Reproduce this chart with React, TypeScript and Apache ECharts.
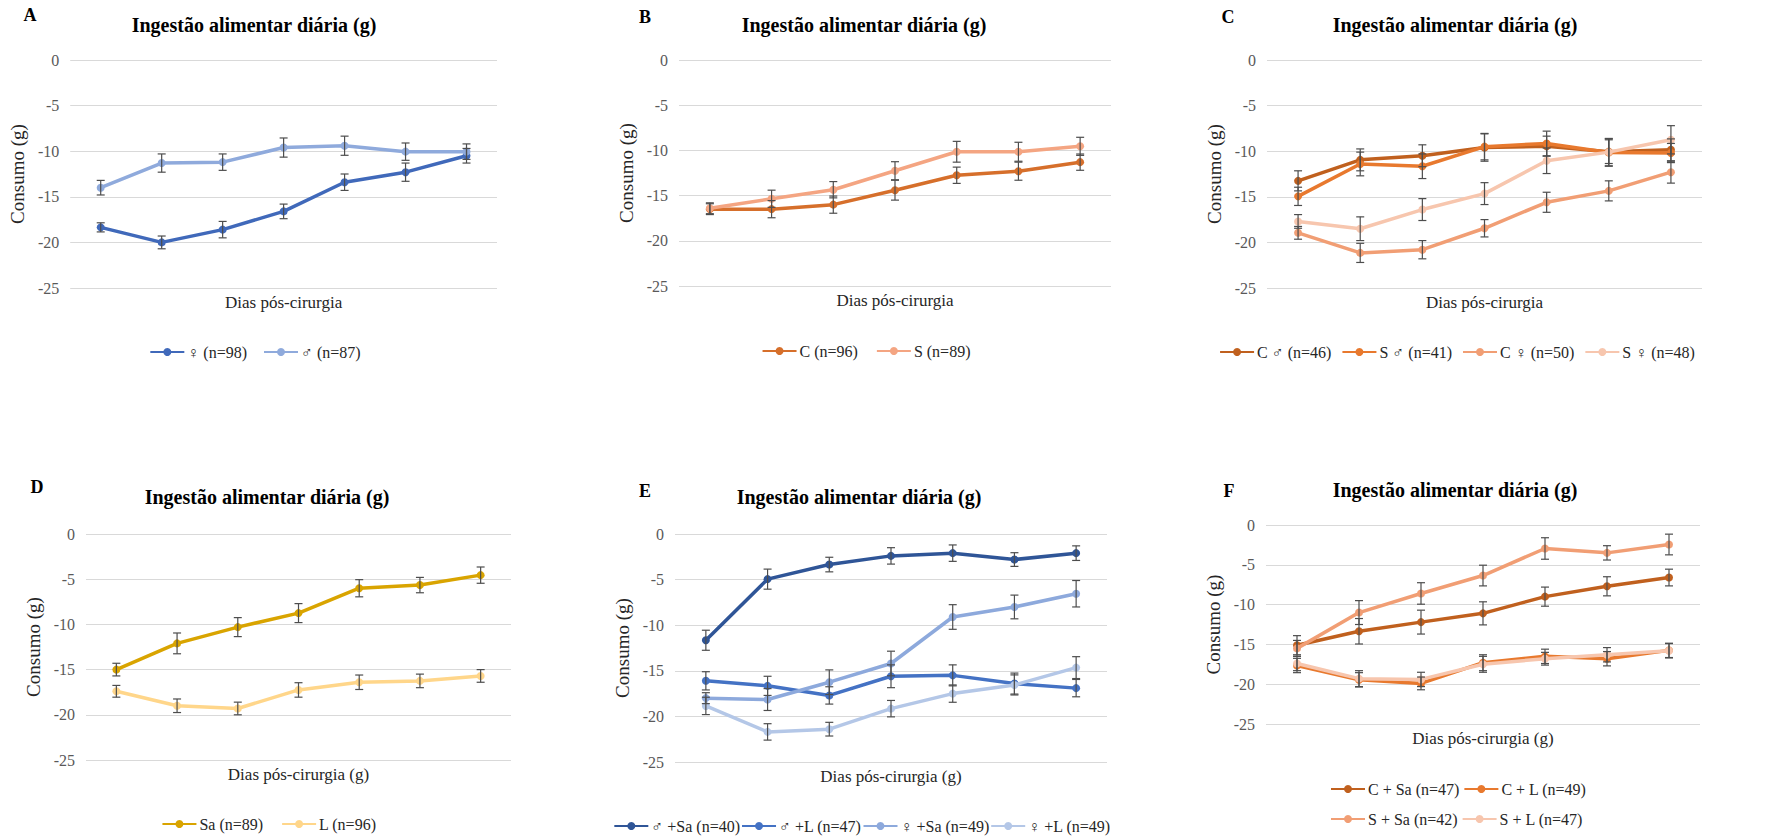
import React, { useEffect, useRef } from "react";
import * as echarts from "echarts";

const FONT = "Liberation Serif";

const days = ["1", "2", "3", "4", "5", "6", "7"];
const yMin = -25;
const yMax = 0;
const yStep = 5;

// Panel A
const aFemale = [-18.35, -20.0, -18.6, -16.6, -13.4, -12.3, -10.5];
const aFemaleErr = [0.5, 0.7, 0.9, 0.8, 0.9, 1.0, 0.8];
const aMale = [-14.0, -11.3, -11.2, -9.6, -9.4, -10.05, -10.05];
const aMaleErr = [0.8, 1.0, 0.9, 1.05, 1.05, 0.95, 0.85];

// Panel B
const bC = [-16.5, -16.5, -16.0, -14.4, -12.75, -12.3, -11.3];
const bCErr = [0.6, 0.95, 0.95, 1.1, 0.9, 1.0, 0.9];
const bS = [-16.4, -15.35, -14.35, -12.25, -10.15, -10.15, -9.55];
const bSErr = [0.6, 0.95, 0.9, 1.0, 1.15, 1.05, 1.0];

// Panel C
const cCm = [-13.25, -10.95, -10.5, -9.6, -9.45, -10.05, -9.85];
const cCmErr = [1.1, 1.2, 1.2, 1.5, 1.1, 1.3, 1.2];
const cSm = [-14.95, -11.4, -11.65, -9.5, -9.15, -10.15, -10.2];
const cSmErr = [1.0, 1.3, 1.35, 1.45, 1.35, 1.5, 1.05];
const cCf = [-18.95, -21.15, -20.8, -18.45, -15.6, -14.35, -12.3];
const cCfErr = [0.7, 1.05, 1.0, 0.95, 1.1, 1.1, 1.2];
const cSf = [-17.7, -18.5, -16.4, -14.65, -11.05, -10.1, -8.75];
const cSfErr = [0.75, 1.3, 1.2, 1.2, 1.4, 1.5, 1.55];

// Panel D
const dSa = [-15.0, -12.1, -10.3, -8.75, -6.0, -5.65, -4.55];
const dSaErr = [0.7, 1.15, 1.05, 1.05, 0.95, 0.85, 0.9];
const dL = [-17.4, -19.0, -19.3, -17.25, -16.4, -16.25, -15.7];
const dLErr = [0.65, 0.75, 0.7, 0.8, 0.8, 0.75, 0.7];

// Panel E
const eMSa = [-11.65, -4.95, -3.35, -2.4, -2.1, -2.8, -2.1];
const eMSaErr = [1.1, 1.1, 0.8, 0.9, 0.9, 0.75, 0.8];
const eML = [-16.1, -16.65, -17.7, -15.6, -15.5, -16.4, -16.9];
const eMLErr = [1.0, 1.05, 0.95, 1.25, 1.15, 1.15, 0.95];
const eFSa = [-18.0, -18.15, -16.25, -14.2, -9.1, -8.0, -6.55];
const eFSaErr = [0.6, 1.2, 1.35, 1.35, 1.35, 1.3, 1.45];
const eFL = [-18.85, -21.7, -21.4, -19.15, -17.5, -16.55, -14.65];
const eFLErr = [0.95, 0.9, 0.75, 0.9, 0.95, 1.1, 1.2];

// Panel F
const fCSa = [-15.1, -13.35, -12.2, -11.1, -9.0, -7.7, -6.6];
const fCSaErr = [1.2, 1.6, 1.5, 1.45, 1.2, 1.2, 1.05];
const fCL = [-17.65, -19.45, -19.9, -17.3, -16.5, -16.8, -15.75];
const fCLErr = [0.9, 0.9, 0.8, 1.0, 0.9, 0.9, 0.9];
const fSSa = [-15.5, -11.0, -8.6, -6.35, -2.95, -3.5, -2.45];
const fSSaErr = [1.0, 1.5, 1.35, 1.3, 1.35, 0.9, 1.3];
const fSL = [-17.4, -19.3, -19.4, -17.5, -16.8, -16.3, -15.8];
const fSLErr = [0.9, 1.0, 0.9, 1.0, 0.8, 0.9, 0.9];

const TITLE = "Ingestão alimentar diária (g)";
const Y_NAME = "Consumo (g)";

type Ser = { name: string; color: string; values: number[]; errors: number[] };
type Leg = { names: string[]; top: number; left?: number; itemGap: number; fontSize: number };
type Panel = {
  letter: string;
  div: { left: number; top: number; width: number; height: number };
  grid: { left: number; top: number; width: number; height: number };
  title: [number, number];
  letterPos: [number, number];
  yNameGap: number;
  xName: string;
  xNameGap: number;
  series: Ser[];
  legends: Leg[];
};

const panels: Panel[] = [
  {
    letter: "A",
    div: { left: 0, top: 0, width: 510, height: 420 },
    grid: { left: 67, top: 60, width: 430, height: 228 },
    title: [254, 25],
    letterPos: [30, 15],
    yNameGap: 36,
    xName: "Dias pós-cirurgia",
    xNameGap: 6,
    series: [
      { name: "♀ (n=98)", color: "#4069BA", values: aFemale, errors: aFemaleErr },
      { name: "♂ (n=87)", color: "#8FAADC", values: aMale, errors: aMaleErr },
    ],
    legends: [{ names: ["♀ (n=98)", "♂ (n=87)"], top: 344, itemGap: 16, fontSize: 16 }],
  },
  {
    letter: "B",
    div: { left: 590, top: 0, width: 552, height: 420 },
    grid: { left: 89, top: 60, width: 432, height: 226 },
    title: [274, 25],
    letterPos: [55, 17],
    yNameGap: 40,
    xName: "Dias pós-cirurgia",
    xNameGap: 6,
    series: [
      { name: "C (n=96)", color: "#D66F2B", values: bC, errors: bCErr },
      { name: "S (n=89)", color: "#F4A582", values: bS, errors: bSErr },
    ],
    legends: [{ names: ["C (n=96)", "S (n=89)"], top: 343, itemGap: 18, fontSize: 16 }],
  },
  {
    letter: "C",
    div: { left: 1180, top: 0, width: 554, height: 420 },
    grid: { left: 87, top: 60, width: 435, height: 228 },
    title: [275, 25],
    letterPos: [48, 17],
    yNameGap: 35,
    xName: "Dias pós-cirurgia",
    xNameGap: 6,
    series: [
      { name: "C ♂ (n=46)", color: "#C0601E", values: cCm, errors: cCmErr },
      { name: "S ♂ (n=41)", color: "#E8792E", values: cSm, errors: cSmErr },
      { name: "C ♀ (n=50)", color: "#F19E74", values: cCf, errors: cCfErr },
      { name: "S ♀ (n=48)", color: "#F7C6AE", values: cSf, errors: cSfErr },
    ],
    legends: [
      { names: ["C ♂ (n=46)", "S ♂ (n=41)", "C ♀ (n=50)", "S ♀ (n=48)"], top: 344, itemGap: 10, fontSize: 16 },
    ],
  },
  {
    letter: "D",
    div: { left: 0, top: 420, width: 538, height: 420 },
    grid: { left: 86, top: 114, width: 425, height: 226 },
    title: [267, 77],
    letterPos: [37, 67],
    yNameGap: 40,
    xName: "Dias pós-cirurgia (g)",
    xNameGap: 6,
    series: [
      { name: "Sa (n=89)", color: "#D9A400", values: dSa, errors: dSaErr },
      { name: "L (n=96)", color: "#FFD68A", values: dL, errors: dLErr },
    ],
    legends: [{ names: ["Sa (n=89)", "L (n=96)"], top: 396, itemGap: 18, fontSize: 16 }],
  },
  {
    letter: "E",
    div: { left: 590, top: 420, width: 544, height: 420 },
    grid: { left: 85, top: 114, width: 432, height: 228 },
    title: [269, 77],
    letterPos: [55, 71],
    yNameGap: 41,
    xName: "Dias pós-cirurgia (g)",
    xNameGap: 6,
    series: [
      { name: "♂ +Sa (n=40)", color: "#2F5597", values: eMSa, errors: eMSaErr },
      { name: "♂ +L (n=47)", color: "#4472C4", values: eML, errors: eMLErr },
      { name: "♀ +Sa (n=49)", color: "#8DA9DC", values: eFSa, errors: eFSaErr },
      { name: "♀ +L (n=49)", color: "#B4C7E7", values: eFL, errors: eFLErr },
    ],
    legends: [
      { names: ["♂ +Sa (n=40)", "♂ +L (n=47)", "♀ +Sa (n=49)", "♀ +L (n=49)"], top: 398, itemGap: 1, fontSize: 16 },
    ],
  },
  {
    letter: "F",
    div: { left: 1180, top: 420, width: 593, height: 420 },
    grid: { left: 86, top: 105, width: 434, height: 199 },
    title: [275, 70],
    letterPos: [49, 71],
    yNameGap: 36,
    xName: "Dias pós-cirurgia (g)",
    xNameGap: 6,
    series: [
      { name: "C + Sa (n=47)", color: "#C0601E", values: fCSa, errors: fCSaErr },
      { name: "C + L (n=49)", color: "#E8792E", values: fCL, errors: fCLErr },
      { name: "S + Sa (n=42)", color: "#F19E74", values: fSSa, errors: fSSaErr },
      { name: "S + L (n=47)", color: "#F7C6AE", values: fSL, errors: fSLErr },
    ],
    legends: [
      { names: ["C + Sa (n=47)", "C + L (n=49)"], top: 361, left: 150, itemGap: 4, fontSize: 16 },
      { names: ["S + Sa (n=42)", "S + L (n=47)"], top: 391, left: 150, itemGap: 4, fontSize: 16 },
    ],
  },
];

function errorRender(params: any, api: any) {
  const x = api.value(0);
  const lo = api.coord([x, api.value(1)]);
  const hi = api.coord([x, api.value(2)]);
  const w = 4;
  const st = { stroke: "#4D4D4D", lineWidth: 1.2 };
  return {
    type: "group",
    children: [
      { type: "line", shape: { x1: lo[0], y1: lo[1], x2: hi[0], y2: hi[1] }, style: st },
      { type: "line", shape: { x1: lo[0] - w, y1: lo[1], x2: lo[0] + w, y2: lo[1] }, style: st },
      { type: "line", shape: { x1: hi[0] - w, y1: hi[1], x2: hi[0] + w, y2: hi[1] }, style: st },
    ],
  };
}

function buildOption(p: Panel) {
  const series: any[] = [];
  p.series.forEach((s, i) => {
    series.push({
      type: "line",
      name: s.name,
      data: s.values,
      color: s.color,
      symbol: "circle",
      symbolSize: 8,
      lineStyle: { width: 3.5, color: s.color },
      itemStyle: { color: s.color },
      z: 2 + i,
    });
  });
  p.series.forEach((s) => {
    series.push({
      type: "custom",
      name: s.name + " err",
      data: s.values.map((v, i) => [i, v - s.errors[i], v + s.errors[i]]),
      encode: { x: 0, y: [1, 2] },
      renderItem: errorRender,
      silent: true,
      z: 10,
    });
  });
  return {
    animation: false,
    backgroundColor: "#ffffff",
    textStyle: { fontFamily: FONT },
    grid: { ...p.grid, containLabel: false },
    xAxis: {
      type: "category",
      data: days,
      boundaryGap: true,
      axisLine: { show: false, onZero: false },
      axisTick: { show: false },
      axisLabel: { show: false },
      splitLine: { show: false },
      name: p.xName,
      nameLocation: "middle",
      nameGap: p.xNameGap,
      nameTextStyle: { fontFamily: FONT, fontSize: 17, color: "#262626" },
    },
    yAxis: {
      type: "value",
      min: yMin,
      max: yMax,
      interval: yStep,
      axisLine: { show: false },
      axisTick: { show: false },
      axisLabel: { color: "#595959", fontFamily: FONT, fontSize: 16, margin: 11 },
      splitLine: { lineStyle: { color: "#D9D9D9", width: 1 } },
      name: Y_NAME,
      nameLocation: "middle",
      nameGap: p.yNameGap,
      nameTextStyle: { fontFamily: FONT, fontSize: 19, color: "#262626" },
    },
    legend: p.legends.map((l) => ({
      data: l.names,
      top: l.top,
      left: l.left !== undefined ? l.left : "center",
      padding: 0,
      itemGap: l.itemGap,
      itemWidth: 34,
      itemHeight: 10,
      selectedMode: false,
      textStyle: { fontFamily: FONT, fontSize: l.fontSize, color: "#262626", padding: [0, 0, 0, -2] },
    })),
    graphic: [
      {
        type: "text",
        x: p.title[0],
        y: p.title[1],
        style: {
          text: TITLE,
          font: `bold 20px ${FONT}`,
          fill: "#000000",
          align: "center",
          verticalAlign: "middle",
        },
      },
      {
        type: "text",
        x: p.letterPos[0],
        y: p.letterPos[1],
        style: {
          text: p.letter,
          font: `bold 18px ${FONT}`,
          fill: "#000000",
          align: "center",
          verticalAlign: "middle",
        },
      },
    ],
    series,
  };
}

function PanelChart({ p }: { p: Panel }) {
  const ref = useRef<HTMLDivElement>(null);
  useEffect(() => {
    if (!ref.current) return;
    const chart = echarts.init(ref.current, undefined, { renderer: "svg" });
    chart.setOption(buildOption(p) as any);
    return () => chart.dispose();
  }, [p]);
  return (
    <div
      ref={ref}
      style={{
        position: "absolute",
        left: p.div.left,
        top: p.div.top,
        width: p.div.width,
        height: p.div.height,
      }}
    />
  );
}

export default function App() {
  useEffect(() => {
    document.body.style.margin = "0";
    document.body.style.overflow = "hidden";
  }, []);
  return (
    <div style={{ position: "relative", width: 1773, height: 840, background: "#ffffff", overflow: "hidden" }}>
      {panels.map((p) => (
        <PanelChart key={p.letter} p={p} />
      ))}
    </div>
  );
}
